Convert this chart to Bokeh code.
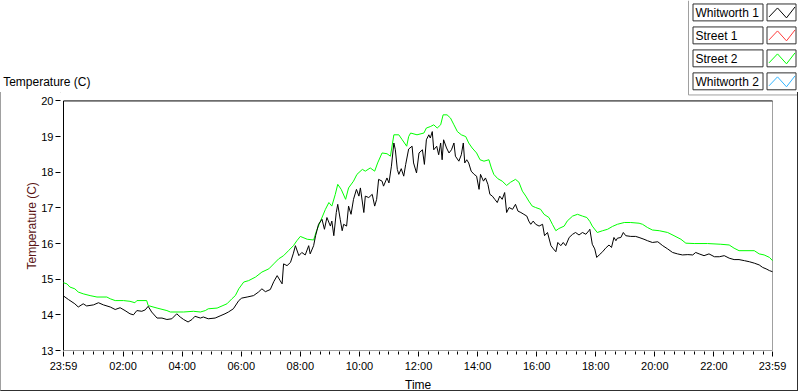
from bokeh.plotting import figure
from bokeh.models import Range1d, FixedTicker, LinearAxis, Title
from bokeh.embed import file_html
from bokeh.resources import INLINE
from bokeh.core.properties import value

# ---------------- data (minutes since midnight; -1 = 23:59 of previous day) -------------
whitworth1_min = [-1, 9, 22, 29, 39, 46, 60, 70, 80, 94, 104, 114, 124, 134, 141, 148, 158, 165, 171, 178,
                  189, 199, 209, 219, 229, 236, 243, 252, 260, 266, 277, 283, 293, 307, 317, 327, 334, 344, 355, 361,
                  372, 385, 395, 402, 409, 419, 426, 433, 439, 443, 446, 453, 460, 466, 470, 477, 483, 490, 497, 500,
                  507, 511, 517, 524, 529, 534, 541, 544, 548, 553, 556, 561, 565, 568, 574, 578, 583, 588, 594, 599,
                  602, 609, 612, 619, 626, 631, 635, 639, 646, 649, 656, 660, 665, 670, 673, 677, 680, 685, 690, 694,
                  700, 707, 710, 716, 721, 728, 732, 736, 741, 744, 748, 751, 757, 761, 765, 768, 771, 777, 782, 787,
                  792, 795, 802, 807, 811, 814, 818, 822, 827, 833, 838, 843, 846, 852, 856, 861, 865, 870, 875, 880,
                  885, 890, 895, 899, 904, 911, 917, 922, 928, 934, 940, 944, 948, 953, 958, 965, 972, 976, 982, 989,
                  994, 999, 1003, 1009, 1014, 1019, 1026, 1033, 1039, 1046, 1053, 1060, 1066, 1068, 1073, 1078, 1082,
                  1087, 1094, 1100, 1107, 1112, 1117, 1121, 1124, 1131, 1136, 1141, 1151, 1161, 1168, 1178, 1185, 1195,
                  1206, 1216, 1226, 1236, 1246, 1256, 1267, 1277, 1283, 1290, 1300, 1310, 1321, 1331, 1341, 1351, 1361,
                  1371, 1382, 1392, 1402, 1412, 1419, 1426, 1433, 1439]
whitworth1_temp = [14.53, 14.43, 14.31, 14.22, 14.31, 14.25, 14.28, 14.34, 14.28, 14.22, 14.15, 14.20, 14.12, 14.03, 14.00, 14.12, 14.10, 14.14, 14.24, 14.08,
                   13.91, 13.91, 13.87, 13.89, 14.03, 13.94, 13.87, 13.80, 13.87, 13.96, 13.91, 13.94, 13.89, 13.91, 13.97, 14.03, 14.08, 14.17, 14.40, 14.47,
                   14.50, 14.54, 14.64, 14.73, 14.65, 14.71, 14.93, 15.10, 14.96, 14.87, 15.43, 15.38, 15.47, 15.73, 15.94, 15.66, 15.75, 15.68, 15.94, 15.71,
                   15.94, 16.22, 16.54, 16.68, 16.40, 16.73, 16.49, 16.63, 16.22, 16.87, 17.10, 16.68, 16.36, 16.54, 16.49, 17.05, 16.82, 17.24, 17.52, 17.33,
                   17.56, 16.87, 17.33, 17.29, 17.38, 17.05, 17.24, 17.80, 17.75, 17.61, 17.84, 17.70, 18.17, 18.82, 18.63, 18.08, 17.94, 18.10, 17.89, 18.22,
                   18.65, 18.73, 18.26, 17.98, 18.54, 18.63, 18.22, 18.91, 19.05, 18.96, 19.14, 18.63, 18.73, 18.49, 18.82, 18.35, 18.91, 18.68, 18.54, 18.63,
                   18.82, 18.45, 18.31, 18.49, 18.82, 18.26, 18.35, 18.26, 18.03, 17.94, 17.89, 17.52, 17.94, 17.75, 17.84, 17.66, 17.38, 17.33, 17.24, 17.15,
                   17.33, 17.24, 17.43, 16.87, 17.01, 16.96, 17.10, 16.91, 16.87, 16.82, 16.77, 16.63, 16.54, 16.63, 16.54, 16.49, 16.54, 16.22, 16.31, 15.94,
                   15.85, 15.77, 16.03, 15.94, 16.03, 15.94, 16.17, 16.26, 16.31, 16.24, 16.31, 16.26, 16.36, 16.40, 15.98, 15.85, 15.61,
                   15.68, 15.77, 15.87, 15.96, 15.89, 16.17, 16.08, 16.15, 16.17, 16.31, 16.22, 16.20, 16.20, 16.17, 16.12, 16.08, 16.03,
                   16.05, 15.94, 15.85, 15.75, 15.71, 15.68, 15.69, 15.68, 15.75, 15.71, 15.66, 15.71, 15.63, 15.63, 15.66, 15.59, 15.55,
                   15.55, 15.52, 15.49, 15.45, 15.40, 15.33, 15.29, 15.24, 15.21]

street2_min = [-1, 6, 12, 22, 29, 39, 53, 67, 87, 94, 104, 121, 134, 144, 148, 168, 171, 189, 209, 216,
               243, 263, 277, 287, 293, 311, 321, 331, 341, 348, 355, 365, 375, 389, 402, 416, 426, 436, 446, 456,
               466, 473, 480, 494, 507, 513, 521, 531, 538, 544, 551, 556, 563, 572, 578, 588, 595, 606, 612, 622,
               631, 637, 646, 656, 663, 670, 680, 687, 696, 700, 704, 717, 731, 736, 744, 751, 758, 765, 770, 778,
               785, 792, 799, 807, 816, 822, 829, 838, 845, 853, 863, 868, 873, 881, 890, 899, 907, 917, 924, 931,
               938, 944, 951, 958, 968, 975, 985, 992, 999, 1005, 1016, 1022, 1033, 1043, 1053, 1062, 1068, 1073, 1083,
               1094, 1104, 1114, 1124, 1138, 1151, 1168, 1175, 1185, 1195, 1209, 1226, 1239, 1253, 1263, 1280, 1307,
               1334, 1351, 1361, 1371, 1402, 1412, 1422, 1433, 1439]
street2_temp = [14.90, 14.87, 14.78, 14.73, 14.64, 14.59, 14.54, 14.50, 14.50, 14.45, 14.40, 14.40, 14.38, 14.34, 14.40, 14.40, 14.26, 14.19, 14.12, 14.08,
                14.08, 14.10, 14.08, 14.12, 14.17, 14.19, 14.25, 14.31, 14.45, 14.54, 14.73, 14.92, 14.96, 15.06, 15.20, 15.29, 15.43, 15.57, 15.66, 15.80,
                15.94, 16.08, 16.20, 16.12, 16.10, 16.36, 16.63, 16.96, 17.15, 17.05, 17.38, 17.66, 17.52, 17.24, 17.56, 17.75, 17.94, 18.08, 18.03, 18.12,
                18.03, 18.26, 18.54, 18.52, 18.45, 19.05, 19.05, 18.91, 18.73, 19.00, 19.10, 19.05, 19.10, 19.24, 19.28, 19.33, 19.24, 19.33, 19.61, 19.61,
                19.52, 19.33, 19.14, 19.05, 19.00, 18.82, 18.68, 18.54, 18.35, 18.31, 18.35, 18.12, 17.94, 17.82, 17.75, 17.63, 17.72, 17.80, 17.72, 17.47,
                17.33, 17.19, 17.05, 17.01, 16.96, 16.82, 16.73, 16.54, 16.36, 16.42, 16.49, 16.63, 16.77, 16.82, 16.77, 16.73, 16.62, 16.49, 16.31,
                16.36, 16.40, 16.48, 16.54, 16.59, 16.59, 16.57, 16.54, 16.45, 16.38, 16.36, 16.31, 16.22, 16.12, 16.01, 16.00, 16.00,
                15.98, 15.96, 15.87, 15.80, 15.80, 15.71, 15.68, 15.61, 15.52]

series_names = ["Whitworth 1", "Street 1", "Street 2", "Whitworth 2"]
series_colors = ["#000000", "#ff3b3b", "#00ff00", "#33b5ff"]

x_tick_minutes = [-1, 120, 240, 360, 480, 600, 720, 840, 960, 1080, 1200, 1320, 1439]
x_tick_labels = ["23:59", "02:00", "04:00", "06:00", "08:00", "10:00", "12:00",
                 "14:00", "16:00", "18:00", "20:00", "22:00", "23:59"]
y_ticks = [13, 14, 15, 16, 17, 18, 19, 20]
x_min, x_max = -1, 1439
y_min, y_max = 13, 20

# ---------------- layout (canvas pixels) -------------
FONT = "Liberation Sans"
W, H = 800, 392
FL, FR, FT, FB = 60, 797, 0, 353          # frame edges on the canvas
CL, CR, CT, CB = 63, 772, 101, 352        # chart box (data area) on the canvas
sx = (CR - CL) / (x_max - x_min)
sy = (CB - CT) / (y_max - y_min)
x_range = Range1d(x_min - (CL - FL) / sx, x_min + (FR - CL) / sx)
y_range = Range1d(y_min - (FB - CB) / sy, y_max + (CT - FT) / sy)

panel_css = """
:host::before { content: ""; position: absolute; left: 0px; top: 92px; width: 689px; height: 1px;
                background: #a0a0a0; pointer-events: none; }
:host::after { content: ""; position: absolute; left: 0px; top: 92px; width: 798px; height: 299px;
               box-sizing: border-box; border-style: solid; border-width: 0px 1px 1px 1px;
               border-color: #a0a0a0 #303030 #303030 #a0a0a0; pointer-events: none; }
"""

p = figure(width=W, height=H, x_range=x_range, y_range=y_range, title=None,
           output_backend="svg", toolbar_location=None, stylesheets=[panel_css],
           min_border_left=FL, min_border_right=W - FR, min_border_top=FT, min_border_bottom=H - FB)
p.grid.visible = False
p.outline_line_color = None
p.background_fill_color = "white"
p.border_fill_color = "white"
# pixel-coordinate ranges for decorations (legend, frames)
p.extra_x_ranges = {"px": Range1d(FL, FR)}
p.extra_y_ranges = {"px": Range1d(FB, FT)}

# chart box borders: black top/left, grey right/bottom
p.segment(x0=[x_min, x_max], y0=[y_min, y_min], x1=[x_max, x_max], y1=[y_min, y_max],
          line_color="#a0a0a0", line_width=1)
p.segment(x0=[x_min, x_min], y0=[y_min, y_max], x1=[x_min, x_max], y1=[y_max, y_max],
          line_color="black", line_width=1)

# data
p.line(street2_min, street2_temp, line_color=series_colors[2], line_width=1)
p.line(whitworth1_min, whitworth1_temp, line_color=series_colors[0], line_width=1)

# axes
minor = [m for m in range(20, 1440, 20) if m % 120 != 0]
p.xaxis.ticker = FixedTicker(ticks=x_tick_minutes, minor_ticks=minor)
p.xaxis.major_label_overrides = {k: v for k, v in zip(x_tick_minutes, x_tick_labels)}
p.yaxis.ticker = FixedTicker(ticks=y_ticks)
for ax in (p.xaxis[0], p.yaxis[0]):
    ax.major_label_text_font = FONT
    ax.major_label_text_font_size = "11px"
    ax.major_label_text_color = "black"
    ax.major_tick_in = 0
    ax.major_tick_out = 5
    ax.major_tick_line_color = "black"
    ax.axis_line_color = None
p.xaxis.major_label_standoff = 3
p.yaxis.major_label_standoff = 2
p.xaxis.minor_tick_in = 0
p.xaxis.minor_tick_out = 3
p.xaxis.minor_tick_line_color = "black"
p.yaxis.minor_tick_line_color = None

# y axis title (rotated, dark red), placed next to the tick labels
p.add_layout(Title(text="Temperature (C)", align="left", offset=82, standoff=0,
                   text_font=FONT, text_font_size="12px", text_font_style="normal",
                   text_color="#5a1414"), "left")
# chart caption at the top-left, written as the single tick label of a bare pixel axis
cap_axis = LinearAxis(y_range_name="px", ticker=FixedTicker(ticks=[82]),
                      major_label_overrides={82: "Temperature (C)"},
                      axis_line_color=None, major_tick_line_color=None, minor_tick_line_color=None,
                      major_tick_out=0, major_tick_in=0, minor_tick_out=0, minor_tick_in=0,
                      major_label_standoff=-68, major_label_text_font=FONT,
                      major_label_text_font_size="12px", major_label_text_color="black")
p.add_layout(cap_axis, "left")
# x axis title
p.add_layout(Title(text="Time", align="left", offset=344.5, standoff=2,
                   text_font=FONT, text_font_size="12px", text_font_style="normal",
                   text_color="black"), "below")

# legend enclosure and entries (pixel coordinates)
p.segment(x0=[688, 688], y0=[0, 95], x1=[688, 797], y1=[95, 95], x_range_name="px", y_range_name="px",
          line_color="#a0a0a0", line_width=1)
step = 23.1
for i, (name, col) in enumerate(zip(series_names, series_colors)):
    y0 = 3.5 + i * step
    p.quad(left=[692.5], right=[762.5], top=[y0], bottom=[y0 + 17], x_range_name="px", y_range_name="px",
           fill_color="white", line_color="#303030", line_width=1)
    p.text(x=[695], y=[y0 + 9], text=[name], x_range_name="px", y_range_name="px",
           text_font=value(FONT), text_font_size="12px", text_baseline="middle", text_color="black")
    p.quad(left=[766.5], right=[795.5], top=[y0], bottom=[y0 + 17], x_range_name="px", y_range_name="px",
           fill_color="white", line_color="#303030", line_width=1)
    p.line(x=[768.5, 777, 786, 794.5], y=[y0 + 13, y0 + 4, y0 + 14, y0 + 3],
           x_range_name="px", y_range_name="px", line_color=col, line_width=1)

open("out.html", "w").write(file_html(p, INLINE))
